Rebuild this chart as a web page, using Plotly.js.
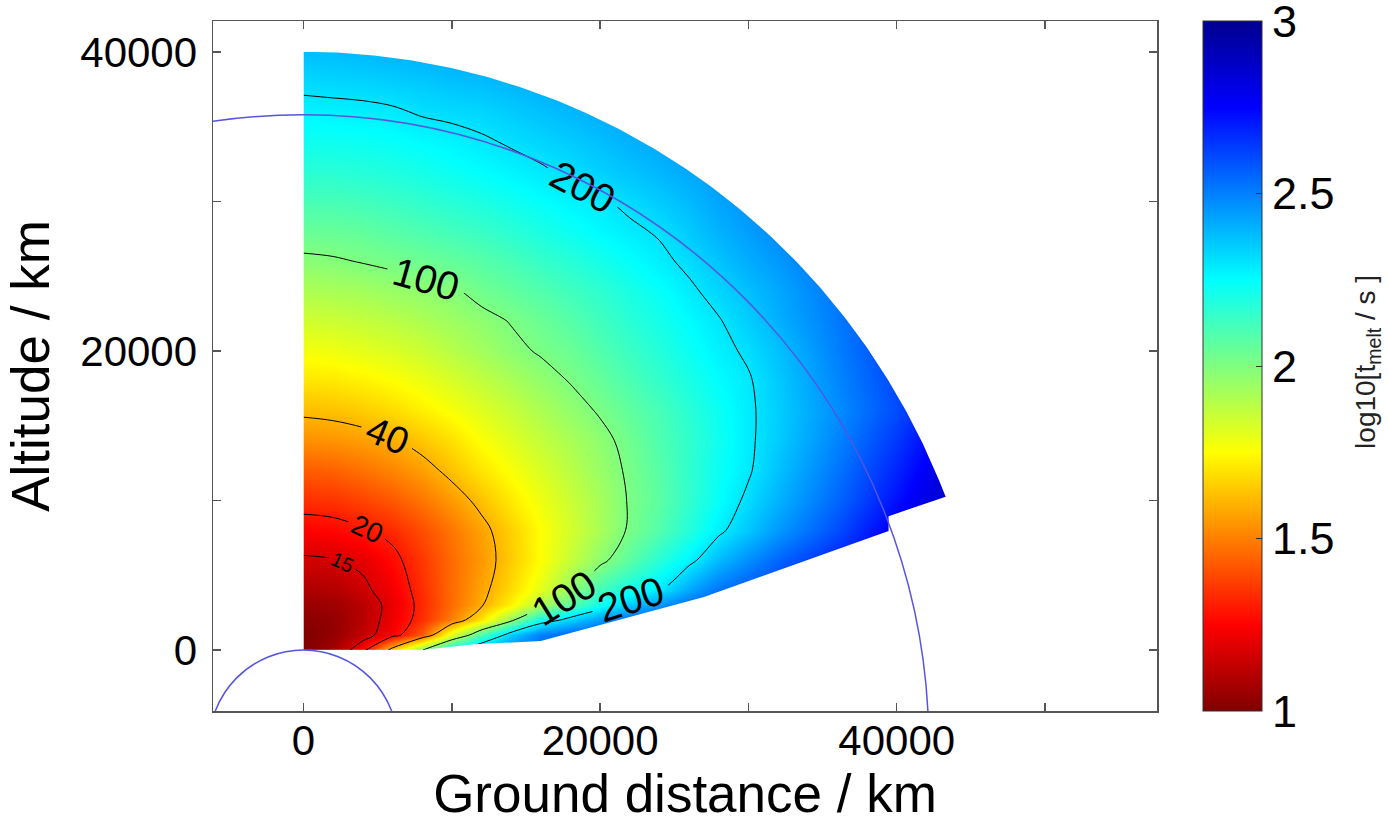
<!DOCTYPE html>
<html>
<head>
<meta charset="utf-8">
<script src="https://cdn.plot.ly/plotly-3.0.1.min.js"></script>
<style>
html,body{margin:0;padding:0;background:#ffffff;}
#chart{width:1388px;height:831px;}
</style>
</head>
<body>
<div id="chart"></div>
<script>
// ---------- data ----------
const groundDistance = [0, 2000, 4000, 6000, 8000, 10000, 12000, 14000, 16000, 18000, 20000, 22000, 24000, 26000, 28000, 30000, 32000, 36000, 40000, 44000];
const altitude = [0, 1000, 2000, 3000, 4000, 6000, 8000, 10000, 12000, 14000, 16000, 18000, 20000, 22000, 24000, 26000, 28000, 30000, 32000, 34000, 36000, 38000, 40000];
// log10 of melting time [s]; one row per altitude, one column per ground distance
const logMeltTime = [
  [1.00, 1.07, 1.24, 1.64, 1.99, 2.25, 2.42, 2.50, 2.55, 2.58, 2.60, 2.62, 2.65, 2.68, 2.70, 2.72, 2.75, 2.80, 2.85, 2.90],
  [1.00, 1.04, 1.13, 1.24, 1.43, 1.80, 2.10, 2.35, 2.50, 2.56, 2.60, 2.62, 2.64, 2.66, 2.68, 2.70, 2.73, 2.78, 2.84, 2.90],
  [1.02, 1.04, 1.11, 1.22, 1.34, 1.50, 1.70, 1.96, 2.22, 2.34, 2.45, 2.54, 2.60, 2.63, 2.65, 2.68, 2.70, 2.76, 2.83, 2.90],
  [1.05, 1.06, 1.11, 1.21, 1.33, 1.46, 1.59, 1.73, 1.90, 2.07, 2.22, 2.35, 2.45, 2.54, 2.60, 2.65, 2.68, 2.75, 2.82, 2.90],
  [1.09, 1.10, 1.15, 1.23, 1.34, 1.46, 1.57, 1.68, 1.80, 1.96, 2.12, 2.21, 2.29, 2.42, 2.52, 2.58, 2.63, 2.72, 2.80, 2.90],
  [1.16, 1.17, 1.20, 1.27, 1.36, 1.46, 1.55, 1.65, 1.75, 1.86, 1.97, 2.07, 2.17, 2.27, 2.38, 2.47, 2.55, 2.68, 2.80, 2.92],
  [1.25, 1.26, 1.29, 1.33, 1.40, 1.48, 1.57, 1.66, 1.75, 1.835, 1.92, 2.012, 2.09, 2.18, 2.28, 2.36, 2.45, 2.60, 2.78, 2.93],
  [1.34, 1.35, 1.38, 1.42, 1.48, 1.55, 1.63, 1.71, 1.78, 1.85, 1.925, 2.008, 2.07, 2.155, 2.24, 2.32, 2.40, 2.55, 2.72, 2.90],
  [1.43, 1.44, 1.47, 1.51, 1.56, 1.63, 1.70, 1.76, 1.82, 1.885, 1.95, 2.015, 2.08, 2.155, 2.23, 2.29, 2.37, 2.52, 2.68, 2.86],
  [1.53, 1.54, 1.56, 1.59, 1.64, 1.69, 1.755, 1.81, 1.865, 1.915, 1.97, 2.03, 2.095, 2.155, 2.22, 2.285, 2.35, 2.49, 2.64, 2.82],
  [1.62, 1.63, 1.65, 1.68, 1.72, 1.76, 1.81, 1.86, 1.91, 1.96, 2.01, 2.06, 2.11, 2.17, 2.23, 2.285, 2.345, 2.47, 2.60, 2.76],
  [1.70, 1.71, 1.725, 1.75, 1.785, 1.825, 1.87, 1.915, 1.96, 2.005, 2.05, 2.10, 2.15, 2.20, 2.25, 2.292, 2.355, 2.485, 2.61, 2.755],
  [1.77, 1.78, 1.80, 1.82, 1.85, 1.89, 1.93, 1.975, 2.01, 2.04, 2.09, 2.135, 2.18, 2.23, 2.275, 2.315, 2.37, 2.50, 2.62, 2.75],
  [1.84, 1.85, 1.865, 1.885, 1.91, 1.94, 1.97, 2.005, 2.04, 2.08, 2.125, 2.17, 2.21, 2.255, 2.295, 2.345, 2.405, 2.51, 2.625, 2.75],
  [1.91, 1.92, 1.93, 1.95, 1.97, 1.985, 2.03, 2.06, 2.09, 2.125, 2.16, 2.20, 2.24, 2.285, 2.33, 2.375, 2.42, 2.52, 2.63, 2.75],
  [1.98, 1.99, 2.005, 2.02, 2.035, 2.055, 2.08, 2.11, 2.145, 2.175, 2.21, 2.245, 2.28, 2.32, 2.365, 2.41, 2.45, 2.54, 2.64, 2.75],
  [2.05, 2.05, 2.06, 2.08, 2.10, 2.12, 2.14, 2.17, 2.20, 2.23, 2.26, 2.285, 2.31, 2.355, 2.40, 2.44, 2.48, 2.56, 2.65, 2.75],
  [2.11, 2.11, 2.12, 2.135, 2.155, 2.175, 2.195, 2.22, 2.245, 2.27, 2.29, 2.32, 2.35, 2.385, 2.425, 2.46, 2.50, 2.57, 2.66, 2.76],
  [2.17, 2.17, 2.18, 2.19, 2.21, 2.23, 2.25, 2.27, 2.29, 2.315, 2.34, 2.365, 2.39, 2.42, 2.45, 2.485, 2.52, 2.60, 2.68, 2.76],
  [2.22, 2.225, 2.23, 2.24, 2.255, 2.27, 2.29, 2.31, 2.33, 2.35, 2.375, 2.40, 2.42, 2.45, 2.48, 2.51, 2.54, 2.61, 2.69, 2.77],
  [2.27, 2.275, 2.28, 2.29, 2.31, 2.32, 2.33, 2.35, 2.37, 2.39, 2.41, 2.43, 2.45, 2.475, 2.50, 2.53, 2.56, 2.63, 2.70, 2.78],
  [2.325, 2.33, 2.335, 2.345, 2.355, 2.37, 2.38, 2.395, 2.41, 2.43, 2.445, 2.465, 2.48, 2.50, 2.525, 2.55, 2.58, 2.645, 2.71, 2.79],
  [2.38, 2.38, 2.39, 2.40, 2.41, 2.42, 2.43, 2.44, 2.45, 2.465, 2.48, 2.495, 2.51, 2.53, 2.55, 2.575, 2.60, 2.66, 2.72, 2.80]
];
const contourLevels = [15, 20, 40, 100, 200];           // seconds
const contourLabelSizes = [20, 28, 38, 40, 40];          // px, label font per level
const colorbarTicks = [1, 1.5, 2, 2.5, 3];
const xTickValues = [0, 20000, 40000];
const yTickValues = [0, 20000, 40000];
const minorTickStep = 10000;
const xRange = [-6100, 57550];
const yRange = [-4080, 42060];
const earthRadius = 6371;      // km
const geoRadius = 42164;       // km, geostationary orbit
const maxAltitude = 40000;     // km, top of computed domain
// lower edge of the computed domain (from outer corner down to the ground)
const lowerEdgeX = [43300, 39450, 39450, 27000, 22800, 19000, 16000, 11500, 8000];
const lowerEdgeY = [10250, 8950, 7950, 3550, 2400, 1400, 600, 380, 0];

// ---------- derived ----------
const meltTime = logMeltTime.map(r => r.map(v => Math.pow(10, v)));
const FONT = 'Liberation Sans, Arial, Helvetica, sans-serif';
const jetReversed = [
  [0, 'rgb(128,0,0)'], [0.125, 'rgb(255,0,0)'], [0.375, 'rgb(255,255,0)'],
  [0.625, 'rgb(0,255,255)'], [0.875, 'rgb(0,0,255)'], [1, 'rgb(0,0,143)']
];

const traces = [];
traces.push({
  type: 'contour',
  x: groundDistance, y: altitude, z: logMeltTime,
  zauto: false, zmin: 1, zmax: 3,
  colorscale: jetReversed,
  autocontour: false,
  contours: {coloring: 'heatmap', showlines: false, start: 5, end: 6, size: 1},
  line: {width: 0},
  hoverinfo: 'skip',
  colorbar: {
    x: 1.0487, xanchor: 'left', xref: 'paper', xpad: 0,
    y: 0.5, yanchor: 'middle', ypad: 0,
    len: 1, lenmode: 'fraction',
    thickness: 59, thicknessmode: 'pixels',
    outlinewidth: 1, outlinecolor: '#333',
    tickmode: 'array', tickvals: colorbarTicks, ticktext: colorbarTicks.map(String),
    ticks: 'inside', ticklen: 6, tickwidth: 1, tickcolor: '#333',
    ticklabeloverflow: 'allow',
    tickfont: {family: FONT, size: 45, color: '#000'}
  }
});

// one line trace per level; the extra (empty, out-of-range) levels only tighten label spacing
const emptyLevelStep = 1e5;
contourLevels.forEach((level, i) => {
  traces.push({
    type: 'contour',
    x: groundDistance, y: altitude, z: meltTime,
    autocontour: false,
    contours: {coloring: 'none', start: level, end: level + 299 * emptyLevelStep, size: emptyLevelStep,
               showlabels: true, labelformat: 'd',
               labelfont: {family: FONT, size: contourLabelSizes[i], color: '#000'}},
    line: {color: '#000', width: 1, smoothing: 1},
    showscale: false,
    hoverinfo: 'skip'
  });
});

// white mask outside the computed domain
const centerY = -earthRadius;
const outerRadius = earthRadius + maxAltitude;
const cornerAngle = Math.atan2(lowerEdgeX[0], lowerEdgeY[0] - centerY);
const maskX = [], maskY = [];
for (let i = 0; i <= 200; i++) {
  const a = cornerAngle * i / 200;
  maskX.push(outerRadius * Math.sin(a));
  maskY.push(centerY + outerRadius * Math.cos(a));
}
lowerEdgeX.forEach((x, i) => { maskX.push(x); maskY.push(lowerEdgeY[i]); });
const farX = xRange[1] * 2, farYlo = yRange[0] * 3, farYhi = yRange[1] * 2;
maskX.push(lowerEdgeX[lowerEdgeX.length - 1], farX, farX, 0, 0);
maskY.push(farYlo, farYlo, farYhi, farYhi, centerY + outerRadius);
traces.push({
  type: 'scatter', mode: 'lines', x: maskX, y: maskY,
  fill: 'toself', fillcolor: '#ffffff',
  line: {color: 'rgba(0,0,0,0)', width: 0},
  hoverinfo: 'skip', showlegend: false
});

const circleLine = {color: 'rgb(85,85,225)', width: 1.5};
const shapes = [earthRadius, geoRadius].map(r => ({
  type: 'circle', xref: 'x', yref: 'y', layer: 'above',
  x0: -r, x1: r, y0: centerY - r, y1: centerY + r,
  line: circleLine
}));

const axisCommon = {
  ticks: 'inside', ticklen: 8, tickwidth: 1.5, tickcolor: '#555',
  showline: true, linecolor: '#555', linewidth: 1.5, mirror: 'ticks',
  showgrid: false, zeroline: false, automargin: false,
  tickfont: {family: FONT, size: 42, color: '#000'},
  minor: {ticks: 'inside', ticklen: 8, tickwidth: 1.5, tickcolor: '#555', dtick: minorTickStep, tick0: 0, showgrid: false}
};

const layout = {
  width: 1388, height: 831,
  margin: {l: 213, r: 231, t: 21, b: 120},
  paper_bgcolor: '#ffffff', plot_bgcolor: '#ffffff',
  showlegend: false, hovermode: false,
  font: {family: FONT, color: '#000'},
  xaxis: Object.assign({}, axisCommon, {
    range: xRange, tickmode: 'array', tickvals: xTickValues, ticktext: xTickValues.map(String),
    ticklabelstandoff: -8,
    title: {text: 'Ground distance / km', font: {family: FONT, size: 53, color: '#000'}, standoff: 3}
  }),
  yaxis: Object.assign({}, axisCommon, {
    range: yRange, tickmode: 'array', tickvals: yTickValues, ticktext: yTickValues.map(String),
    ticklabelstandoff: 6,
    title: {text: 'Altitude / km', font: {family: FONT, size: 53, color: '#000'}, standoff: 14}
  }),
  shapes: shapes,
  annotations: [{
    text: 'log10[t<sub>melt</sub> / s ]', textangle: -90,
    xref: 'paper', yref: 'paper', x: 1.2234, y: 0.5058,
    xanchor: 'center', yanchor: 'middle', showarrow: false,
    font: {family: FONT, size: 28, color: '#222'}
  }]
};

Plotly.newPlot('chart', traces, layout, {staticPlot: true, displayModeBar: false});
</script>
</body>
</html>
